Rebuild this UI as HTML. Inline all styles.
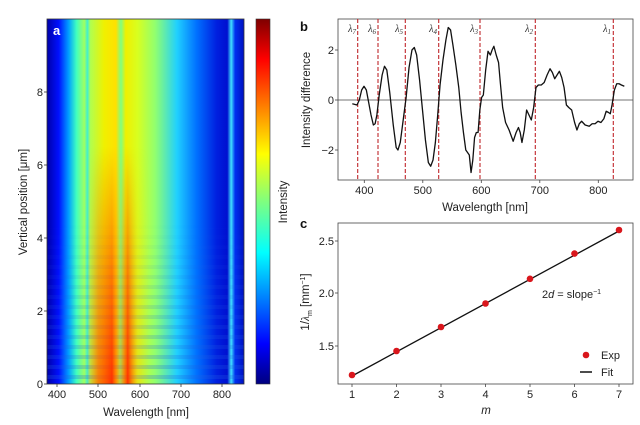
<!DOCTYPE html>
<html><head><meta charset="utf-8"><style>
html,body{margin:0;padding:0;background:#fff;}
svg{display:block;font-family:"Liberation Sans",Arial,sans-serif;}
</style></head><body>
<svg width="640" height="425" viewBox="0 0 640 425" xmlns="http://www.w3.org/2000/svg">
<defs>
<linearGradient id="base" x1="47" x2="244" y1="0" y2="0" gradientUnits="userSpaceOnUse">
<stop offset="0" stop-color="#0000a8"/>
<stop offset="0.06" stop-color="#0010ff"/>
<stop offset="0.11" stop-color="#00a0ff"/>
<stop offset="0.15" stop-color="#40ffc0"/>
<stop offset="0.19" stop-color="#a0ff60"/>
<stop offset="0.205" stop-color="#40f0d0"/>
<stop offset="0.22" stop-color="#b0ff50"/>
<stop offset="0.29" stop-color="#f0f000"/>
<stop offset="0.35" stop-color="#ffe000"/>
<stop offset="0.375" stop-color="#80ff80"/>
<stop offset="0.40" stop-color="#f0f000"/>
<stop offset="0.46" stop-color="#d8ff20"/>
<stop offset="0.55" stop-color="#90ff70"/>
<stop offset="0.66" stop-color="#20d0ff"/>
<stop offset="0.76" stop-color="#0070ff"/>
<stop offset="0.86" stop-color="#0020e0"/>
<stop offset="0.915" stop-color="#0010d0"/>
<stop offset="0.935" stop-color="#40e0ff"/>
<stop offset="0.955" stop-color="#0030f0"/>
<stop offset="1" stop-color="#0010c0"/>
</linearGradient>
<linearGradient id="hot" x1="47" x2="244" y1="0" y2="0" gradientUnits="userSpaceOnUse">
<stop offset="0.2" stop-color="#ff8000" stop-opacity="0"/>
<stop offset="0.26" stop-color="#ff6000" stop-opacity="0.8"/>
<stop offset="0.33" stop-color="#ff3000" stop-opacity="1"/>
<stop offset="0.37" stop-color="#ff9000" stop-opacity="0.4"/>
<stop offset="0.41" stop-color="#ff3000" stop-opacity="1"/>
<stop offset="0.46" stop-color="#ffa000" stop-opacity="0.3"/>
<stop offset="0.52" stop-color="#ffc000" stop-opacity="0"/>
</linearGradient>
<linearGradient id="vfade" x1="0" x2="0" y1="19" y2="384" gradientUnits="userSpaceOnUse">
<stop offset="0.35" stop-color="#fff" stop-opacity="0"/>
<stop offset="0.7" stop-color="#fff" stop-opacity="0.6"/>
<stop offset="1" stop-color="#fff" stop-opacity="1"/>
</linearGradient>
<mask id="m1"><rect x="47" y="19" width="197" height="365" fill="url(#vfade)"/></mask>
<linearGradient id="vfade2" x1="0" x2="0" y1="19" y2="384" gradientUnits="userSpaceOnUse">
<stop offset="0.55" stop-color="#fff" stop-opacity="0"/>
<stop offset="1" stop-color="#fff" stop-opacity="0.28"/>
</linearGradient>
<mask id="m2"><rect x="47" y="19" width="197" height="365" fill="url(#vfade2)"/></mask>
<pattern id="stripes" x="0" y="0" width="10" height="10" patternUnits="userSpaceOnUse">
<rect x="0" y="5" width="10" height="4" fill="#2060e0"/>
</pattern>
<linearGradient id="cbar" x1="0" x2="0" y1="384" y2="19" gradientUnits="userSpaceOnUse">
<stop offset="0" stop-color="#00007f"/>
<stop offset="0.11" stop-color="#0000ff"/>
<stop offset="0.36" stop-color="#00ffff"/>
<stop offset="0.5" stop-color="#7fff7f"/>
<stop offset="0.63" stop-color="#ffff00"/>
<stop offset="0.89" stop-color="#ff0000"/>
<stop offset="1" stop-color="#7f0000"/>
</linearGradient>
</defs>

<!-- Panel a -->
<rect x="47" y="19" width="197" height="365" fill="url(#base)"/>
<rect x="47" y="19" width="197" height="365" fill="url(#stripes)" mask="url(#m2)"/>
<rect x="47" y="19" width="197" height="365" fill="url(#hot)" mask="url(#m1)"/>
<rect x="47" y="19" width="197" height="365" fill="none" stroke="#333" stroke-width="0.8"/>
<text x="53" y="35" fill="#fff" font-weight="bold" font-size="13">a</text>
<g font-size="11" fill="#222" text-anchor="middle">
<text x="57" y="398">400</text><text x="98" y="398">500</text><text x="140" y="398">600</text><text x="181" y="398">700</text><text x="222" y="398">800</text>
<text x="146" y="416" font-size="11.5">Wavelength [nm]</text>
</g>
<g font-size="11" fill="#222" text-anchor="end">
<text x="43" y="388">0</text><text x="43" y="315">2</text><text x="43" y="242">4</text><text x="43" y="169">6</text><text x="43" y="96">8</text>
</g>
<g stroke="#333" stroke-width="0.8">
<line x1="57" y1="384" x2="57" y2="387"/><line x1="98" y1="384" x2="98" y2="387"/><line x1="140" y1="384" x2="140" y2="387"/><line x1="181" y1="384" x2="181" y2="387"/><line x1="222" y1="384" x2="222" y2="387"/>
<line x1="44" y1="384" x2="47" y2="384"/><line x1="44" y1="311" x2="47" y2="311"/><line x1="44" y1="238" x2="47" y2="238"/><line x1="44" y1="165" x2="47" y2="165"/><line x1="44" y1="92" x2="47" y2="92"/>
</g>
<text transform="translate(27,202) rotate(-90)" text-anchor="middle" font-size="11.5" fill="#222">Vertical position [μm]</text>
<rect x="256" y="19" width="14" height="365" fill="url(#cbar)" stroke="#333" stroke-width="0.6"/>
<text transform="translate(287,202) rotate(-90)" text-anchor="middle" font-size="11.5" fill="#222">Intensity</text>

<!-- Panel b -->
<text x="300" y="31" font-weight="bold" font-size="13" fill="#111">b</text>
<rect x="338" y="19" width="295" height="161" fill="none" stroke="#444" stroke-width="0.8"/>
<line x1="338" y1="100" x2="633" y2="100" stroke="#444" stroke-width="0.8"/>
<g stroke="#c0262a" stroke-width="1.1" stroke-dasharray="4,2">
<line x1="357.7" y1="19" x2="357.7" y2="180"/><line x1="378" y1="19" x2="378" y2="180"/><line x1="405.3" y1="19" x2="405.3" y2="180"/><line x1="438.7" y1="19" x2="438.7" y2="180"/><line x1="480" y1="19" x2="480" y2="180"/><line x1="535.3" y1="19" x2="535.3" y2="180"/><line x1="613.3" y1="19" x2="613.3" y2="180"/>
</g>
<g font-family="'Liberation Serif',serif" font-style="italic" font-size="10" fill="#333" text-anchor="end">
<text x="356" y="32">λ<tspan font-size="7" dy="2">7</tspan></text>
<text x="376" y="32">λ<tspan font-size="7" dy="2">6</tspan></text>
<text x="403" y="32">λ<tspan font-size="7" dy="2">5</tspan></text>
<text x="437" y="32">λ<tspan font-size="7" dy="2">4</tspan></text>
<text x="478" y="32">λ<tspan font-size="7" dy="2">3</tspan></text>
<text x="533" y="32">λ<tspan font-size="7" dy="2">2</tspan></text>
<text x="611" y="32">λ<tspan font-size="7" dy="2">1</tspan></text>
</g>
<g transform="translate(130,100) scale(0.585,-25)">
<polyline fill="none" stroke="#111" stroke-width="1.3" vector-effect="non-scaling-stroke" stroke-linejoin="round"
points="380,-0.15 388,-0.2 392,0 396,0.4 400,0.55 404,0.4 408,-0.1 412,-0.6 416,-1.0 419,-0.95 422,-0.6 426,0.2 431,1.0 435,1.35 439,1.2 444,0.3 450,-1.0 455,-1.9 458,-2.0 462,-1.7 467,-0.8 472,0.1 477,1.3 482,2.0 486,2.1 490,1.8 495,0.8 500,-0.4 505,-1.6 510,-2.5 514,-2.65 518,-2.4 522,-1.7 526,-0.6 530,0.6 535,1.6 540,2.4 544,2.9 548,2.8 552,2.2 557,1.4 562,0.5 566,-0.5 570,-1.3 574,-2.0 577,-2.1 580,-2.2 583,-2.9 586,-2.4 589,-1.5 592,-1.3 595,-1.3 598,-0.4 601,0.1 604,0.2 608,1.2 612,1.95 616,1.8 619,2.0 622,2.15 626,1.8 630,1.5 633,0.7 637,-0.3 642,-0.9 648,-1.2 655,-1.65 660,-1.3 664,-1.1 667,-1.3 670,-1.7 674,-1.2 678,-0.4 682,-0.6 686,-0.8 690,-0.3 694,0.5 698,0.6 703,0.6 708,0.7 713,1.0 718,1.25 722,1.1 726,0.85 730,1.0 734,1.15 738,0.9 742,0.5 746,-0.2 750,-0.3 755,-0.4 760,-0.9 764,-1.2 768,-0.95 772,-0.85 778,-1.0 785,-1.05 790,-0.95 795,-0.95 800,-0.85 805,-0.9 810,-0.75 814,-0.45 818,-0.5 821,-0.55 824,-0.2 828,0.4 832,0.65 836,0.65 840,0.6 845,0.55"/>
</g>
<g font-size="11" fill="#222" text-anchor="middle">
<text x="364.3" y="194">400</text><text x="422.8" y="194">500</text><text x="481.3" y="194">600</text><text x="539.8" y="194">700</text><text x="598.3" y="194">800</text>
<text x="485" y="211" font-size="11.5">Wavelength [nm]</text>
</g>
<g font-size="11" fill="#222" text-anchor="end">
<text x="334" y="54">2</text><text x="334" y="104">0</text><text x="334" y="154">−2</text>
</g>
<g stroke="#444" stroke-width="0.8">
<line x1="364.3" y1="180" x2="364.3" y2="183"/><line x1="422.8" y1="180" x2="422.8" y2="183"/><line x1="481.3" y1="180" x2="481.3" y2="183"/><line x1="539.8" y1="180" x2="539.8" y2="183"/><line x1="598.3" y1="180" x2="598.3" y2="183"/>
<line x1="335" y1="50" x2="338" y2="50"/><line x1="335" y1="100" x2="338" y2="100"/><line x1="335" y1="150" x2="338" y2="150"/>
</g>
<text transform="translate(310,100) rotate(-90)" text-anchor="middle" font-size="11.5" fill="#222">Intensity difference</text>

<!-- Panel c -->
<text x="300" y="228" font-weight="bold" font-size="13" fill="#111">c</text>
<rect x="338" y="223" width="295" height="161" fill="none" stroke="#444" stroke-width="0.8"/>
<line x1="352" y1="376" x2="619" y2="231" stroke="#111" stroke-width="1.3"/>
<g fill="#d9161c">
<circle cx="352" cy="375" r="3.3"/><circle cx="396.5" cy="351" r="3.3"/><circle cx="441" cy="327" r="3.3"/><circle cx="485.5" cy="303.5" r="3.3"/><circle cx="530" cy="278.8" r="3.3"/><circle cx="574.5" cy="253.6" r="3.3"/><circle cx="619" cy="230" r="3.3"/>
</g>
<text x="542" y="298" font-size="11" fill="#222"><tspan font-style="normal">2</tspan><tspan font-style="italic">d</tspan> = slope<tspan font-size="7" dy="-4">−1</tspan></text>
<circle cx="586" cy="355" r="3.3" fill="#d9161c"/>
<text x="601" y="359" font-size="11" fill="#222">Exp</text>
<line x1="580" y1="372" x2="592" y2="372" stroke="#111" stroke-width="1.5"/>
<text x="601" y="376" font-size="11" fill="#222">Fit</text>
<g font-size="11" fill="#222" text-anchor="middle">
<text x="352" y="398">1</text><text x="396.5" y="398">2</text><text x="441" y="398">3</text><text x="485.5" y="398">4</text><text x="530" y="398">5</text><text x="574.5" y="398">6</text><text x="619" y="398">7</text>
<text x="486" y="414" font-style="italic" font-size="11.5">m</text>
</g>
<g font-size="11" fill="#222" text-anchor="end">
<text x="334" y="245">2.5</text><text x="334" y="297">2.0</text><text x="334" y="350">1.5</text>
</g>
<g stroke="#444" stroke-width="0.8">
<line x1="352" y1="384" x2="352" y2="387"/><line x1="396.5" y1="384" x2="396.5" y2="387"/><line x1="441" y1="384" x2="441" y2="387"/><line x1="485.5" y1="384" x2="485.5" y2="387"/><line x1="530" y1="384" x2="530" y2="387"/><line x1="574.5" y1="384" x2="574.5" y2="387"/><line x1="619" y1="384" x2="619" y2="387"/>
<line x1="335" y1="241" x2="338" y2="241"/><line x1="335" y1="293" x2="338" y2="293"/><line x1="335" y1="346" x2="338" y2="346"/>
</g>
<text transform="translate(309,302) rotate(-90)" text-anchor="middle" font-size="11.5" fill="#222">1/<tspan font-style="italic" font-family="'Liberation Serif',serif">λ</tspan><tspan font-size="7" dy="3">m</tspan><tspan dy="-3"> [mm</tspan><tspan font-size="7" dy="-4">−1</tspan><tspan dy="4">]</tspan></text>
</svg>
</body></html>
